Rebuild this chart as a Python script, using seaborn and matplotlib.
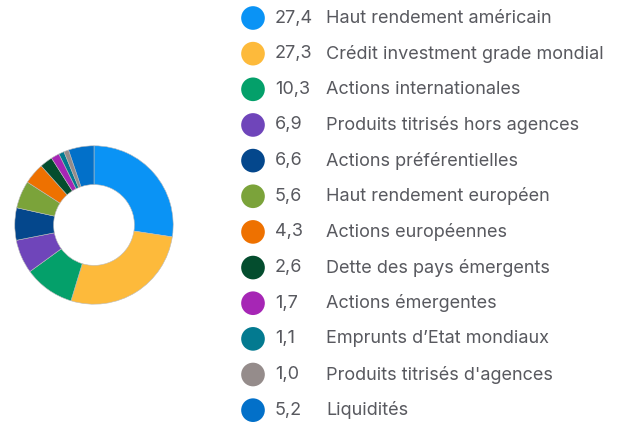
import matplotlib
matplotlib.use('Agg')
import matplotlib.pyplot as plt
import seaborn as sns
import pandas as pd

# 자산 배분 데이터 (%)
values = [27.4, 27.3, 10.3, 6.9, 6.6, 5.6, 4.3, 2.6, 1.7, 1.1, 1.0, 5.2]
value_labels = ['27,4', '27,3', '10,3', '6,9', '6,6', '5,6', '4,3', '2,6', '1,7', '1,1', '1,0', '5,2']
categories = ['Haut rendement américain', 'Crédit investment grade mondial',
              'Actions internationales', 'Produits titrisés hors agences',
              'Actions préférentielles', 'Haut rendement européen',
              'Actions européennes', 'Dette des pays émergents',
              'Actions émergentes', "Emprunts d\u2019Etat mondiaux",
              "Produits titrisés d'agences", 'Liquidités']
colors = ['#0A93F5', '#FDBA3B', '#04A06A', '#6F45BA', '#04478C', '#7BA33A',
          '#EE7100', '#044D2E', '#A626B5', '#037A90', '#958C8B', '#0270C9']

sns.set_theme(style='white')
plt.rcParams['font.family'] = ['Inter', 'DejaVu Sans']
text_color = '#58595F'

fig = plt.figure(figsize=(6.18, 4.23), dpi=100)

# 도넛 차트
ax_pie = fig.add_axes([(94 - 80) / 618, (423 - 305) / 423, 160 / 618, 160 / 423])
ax_pie.pie(values, colors=colors, startangle=90, counterclock=False,
           wedgeprops=dict(width=0.49, edgecolor='#BBBBBB', linewidth=0.4))
ax_pie.set_xlim(-1.01, 1.01)
ax_pie.set_ylim(-1.01, 1.01)
ax_pie.set_aspect('equal')

# 범례 : 점 + 값 + 이름 (좌표 단위 = 100px)
ax_leg = fig.add_axes([0, 0, 1, 1])
df = pd.DataFrame({'pos': range(len(values)), 'x': 0, 'cat': categories})
sns.scatterplot(x='x', y='pos', hue='cat', data=df, palette=colors, s=290,
                linewidth=0, legend=False, ax=ax_leg)
ax_leg.set_xlim(-2.53, 3.65)
ax_leg.set_ylim(11.36, -0.505)  # 행 간격 약 35.6px
for i in range(len(values)):
    ax_leg.text(0.22, i, value_labels[i], color=text_color, fontsize=13, va='center')
    ax_leg.text(0.73, i, categories[i], color=text_color, fontsize=13, va='center')
ax_leg.axis('off')

fig.savefig('out.png', dpi=100)
